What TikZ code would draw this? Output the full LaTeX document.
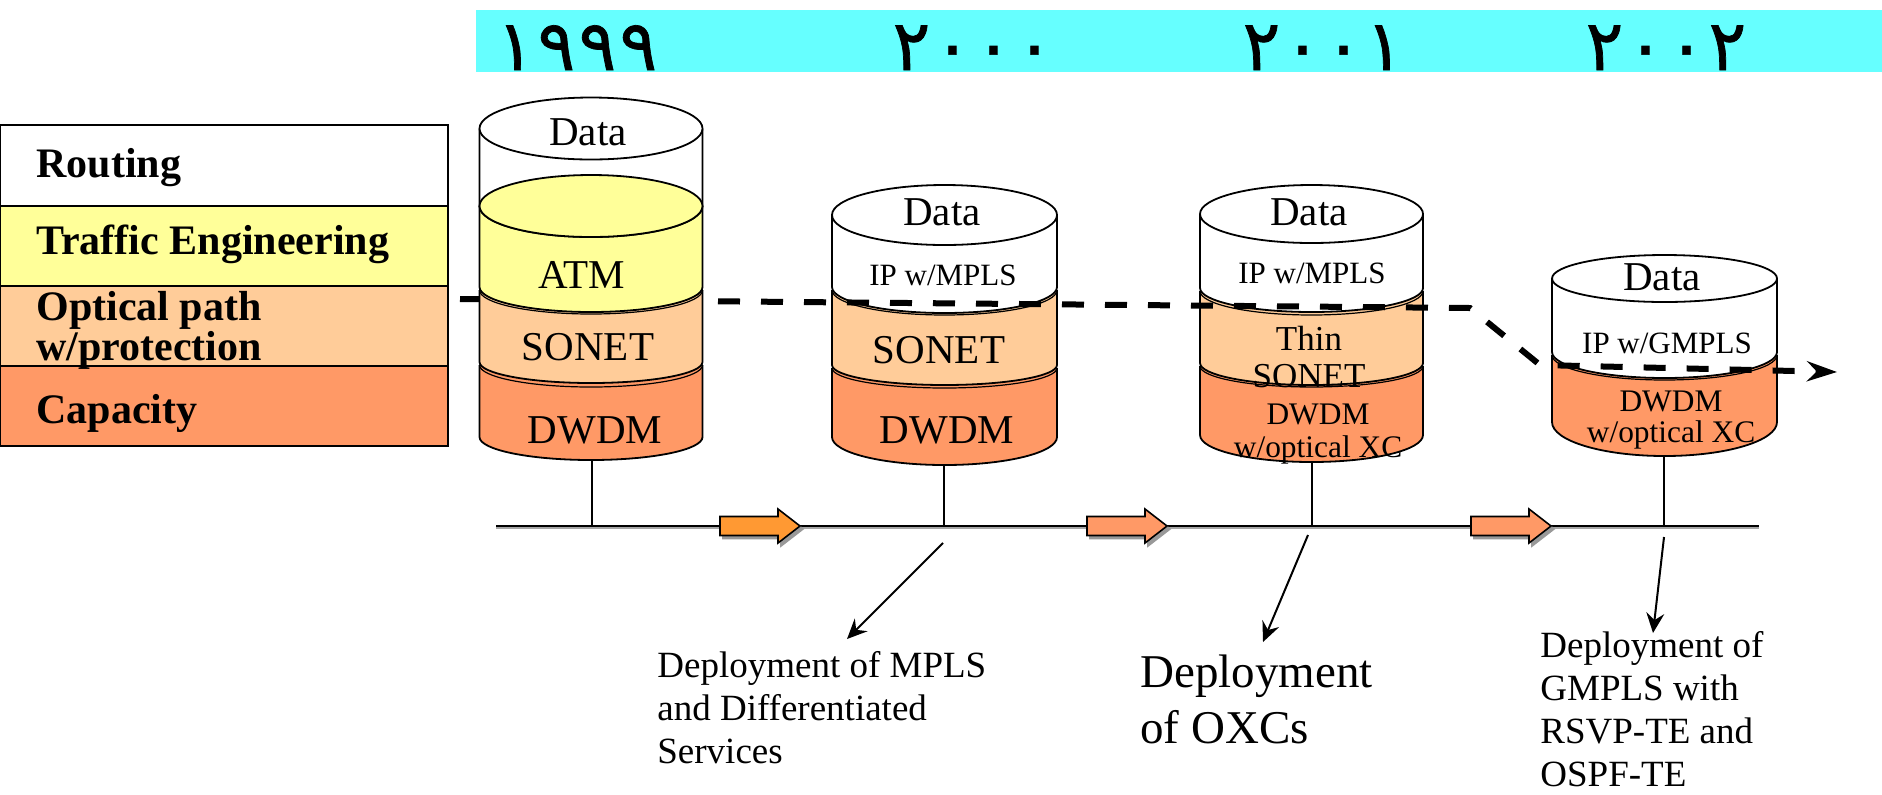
\documentclass[tikz,border=0pt]{standalone}
\usepackage{fontspec}
\setmainfont{Liberation Serif}
\newfontfamily\arabicfont[Script=Arabic,FakeBold=1]{DejaVu Sans}
\usetikzlibrary{arrows.meta}

\definecolor{bandcyan}{HTML}{66FFFF}
\definecolor{layeryellow}{HTML}{FFFF99}
\definecolor{layerpeach}{HTML}{FFCC99}
\definecolor{layerorange}{HTML}{FF9966}
\definecolor{steporange}{HTML}{FF9933}

% Bezier constant for quarter ellipses
\def\ek{0.5523}

% one year digit on a fixed pitch
\newcommand\yd[1]{\makebox[20.5pt][c]{#1}}

% body of one cylinder layer: centre x, top y, bottom y, x radius, y radius of bottom rim, fill
\newcommand\cylbody[6]{%
  \path[fill=#6] (#1-#4,#2) -- (#1-#4,#3)
    .. controls (#1-#4,#3+\ek*#5) and (#1-\ek*#4,#3+#5) .. (#1,#3+#5)
    .. controls (#1+\ek*#4,#3+#5) and (#1+#4,#3+\ek*#5) .. (#1+#4,#3)
    -- (#1+#4,#2) -- cycle;
  \draw[cylline] (#1-#4,#2) -- (#1-#4,#3)
    .. controls (#1-#4,#3+\ek*#5) and (#1-\ek*#4,#3+#5) .. (#1,#3+#5)
    .. controls (#1+\ek*#4,#3+#5) and (#1+#4,#3+\ek*#5) .. (#1+#4,#3)
    -- (#1+#4,#2);
}
% front half of a layer's top rim
\newcommand\cylrim[4]{%
  \draw[rimline] (#1-#3,#2)
    .. controls (#1-#3,#2+\ek*#4) and (#1-\ek*#3,#2+#4) .. (#1,#2+#4)
    .. controls (#1+\ek*#3,#2+#4) and (#1+#3,#2+\ek*#4) .. (#1+#3,#2);
}
% full top ellipse of a layer
\newcommand\cyltop[5]{%
  \filldraw[cylline, fill=#5] (#1+#3,#2)
    .. controls (#1+#3,#2+\ek*#4) and (#1+\ek*#3,#2+#4) .. (#1,#2+#4)
    .. controls (#1-\ek*#3,#2+#4) and (#1-#3,#2+\ek*#4) .. (#1-#3,#2)
    .. controls (#1-#3,#2-\ek*#4) and (#1-\ek*#3,#2-#4) .. (#1,#2-#4)
    .. controls (#1+\ek*#3,#2-#4) and (#1+#3,#2-\ek*#4) .. (#1+#3,#2) -- cycle;
}
% block arrow on the time axis: left x, fill
\newcommand\steparrow[2]{%
  \filldraw[fill=gray!80, draw=gray!80, line width=0.8pt, shift={(3,3)}]
    (#1,516.5) -- (#1+58,516.5) -- (#1+58,509) -- (#1+80,526)
    -- (#1+58,543) -- (#1+58,535.5) -- (#1,535.5) -- cycle;
  \filldraw[fill=#2, draw=black, line width=0.8pt]
    (#1,516.5) -- (#1+58,516.5) -- (#1+58,509) -- (#1+80,526)
    -- (#1+58,543) -- (#1+58,535.5) -- (#1,535.5) -- cycle;
}

\tikzset{
  cylline/.style={draw=black, line width=0.9pt},
  rimline/.style={draw=black, line width=0.6pt},
  layertext/.style={anchor=base, inner sep=0pt, font=\fontsize{20.5}{24}\selectfont},
  smalltext/.style={anchor=base, inner sep=0pt, font=\fontsize{15.5}{18}\selectfont},
  twolinetext/.style={anchor=north, inner sep=0pt, align=center},
  yeartext/.style={anchor=base, inner sep=0pt, font=\arabicfont\fontsize{35}{36}\selectfont},
  rowlabel/.style={anchor=base west, inner sep=0pt, align=left, font=\bfseries\fontsize{21}{20}\selectfont},
  notetext/.style={anchor=north west, inner sep=0pt, align=left, font=\fontsize{18.5}{21.5}\selectfont},
  flowline/.style={line width=3pt, dash pattern=on 11pt off 10.5pt, -{Stealth[length=15pt,width=10pt]}},
  pointer/.style={line width=1pt, -{Stealth[length=10pt,width=9pt,inset=3.5pt]}},
  tickline/.style={line width=0.8pt},
  axisline/.style={line width=1pt},
  tableline/.style={line width=1pt},
}

\begin{document}
\begin{tikzpicture}[x=0.5pt, y=-0.5pt]
\useasboundingbox (0,0) rectangle (1882,794);

% year band
\path[fill=bandcyan] (476,10) rectangle (1882,72);
\node[yeartext] (y1999) at (577,70) {\yd{١}\yd{٩}\yd{٩}\yd{٩}};
\node[yeartext] (y2000) at (973,70) {\yd{٢}\yd{٠}\yd{٠}\yd{٠}};
\node[yeartext] (y2001) at (1323,70) {\yd{٢}\yd{٠}\yd{٠}\yd{١}};
\node[yeartext] (y2002) at (1666,70) {\yd{٢}\yd{٠}\yd{٠}\yd{٢}};

% function table
\draw[tableline, fill=white] (0,125) rectangle (448,206);
\draw[tableline, fill=layeryellow] (0,206) rectangle (448,286);
\draw[tableline, fill=layerpeach] (0,286) rectangle (448,366);
\draw[tableline, fill=layerorange] (0,366) rectangle (448,446);
\node[rowlabel] (lrouting) at (36,177) {Routing};
\node[rowlabel] (lte) at (36,254) {Traffic Engineering};
\node[rowlabel, anchor=north west] (loptical) at (36,291) {Optical path\\w/protection};
\node[rowlabel] (lcap) at (36,423) {Capacity};

% 2000 stack
\cylbody{944.5}{368}{437}{112.5}{28}{layerorange}
\cylrim{944.5}{368}{112.5}{20}
\cylbody{944.5}{290}{365}{112.5}{20}{layerpeach}
\cylrim{944.5}{290}{112.5}{25}
\cylbody{944.5}{215}{287}{112.5}{26}{white}
\cyltop{944.5}{215}{112.5}{30}{white}

% 2001 stack
\cylbody{1311.5}{366}{435}{111.5}{27}{layerorange}
\cylrim{1311.5}{366}{111.5}{21}
\cylbody{1311.5}{291}{363}{111.5}{22}{layerpeach}
\cylrim{1311.5}{291}{111.5}{24}
\cylbody{1311.5}{214}{288}{111.5}{24}{white}
\cyltop{1311.5}{214}{111.5}{29}{white}

% 2002 stack
\cylbody{1664.5}{355}{422}{112.5}{34}{layerorange}
\cylrim{1664.5}{355}{112.5}{25}
\cylbody{1664.5}{278.5}{352}{112.5}{26}{white}
\cyltop{1664.5}{278.5}{112.5}{23.5}{white}

% boundary between optical and packet functions
\coordinate (dA) at (460,299);
\coordinate (dB) at (1470,308);
\coordinate (dC) at (1540,365);
\coordinate (dD) at (1837,372);
\draw[flowline] (dA) -- (dB) -- (dC) -- (dD);

% 1999 stack
\cylbody{591}{365}{437}{111.5}{23}{layerorange}
\cylrim{591}{365}{111.5}{22}
\cylbody{591}{290}{362}{111.5}{21}{layerpeach}
\cylrim{591}{290}{111.5}{24}
\cylbody{591}{206}{287}{111.5}{25}{layeryellow}
\cylbody{591}{128.5}{206}{111.5}{31}{white}
\cyltop{591}{206}{111.5}{31}{layeryellow}
\cyltop{591}{128.5}{111.5}{31}{white}

% layer labels
\node[layertext] (c1data) at (588,145) {Data};
\node[layertext] (c1atm) at (582,288) {ATM};
\node[layertext] (c1sonet) at (588,360) {SONET};
\node[layertext] (c1dwdm) at (595,443) {DWDM};

\node[layertext] (c2data) at (942,225) {Data};
\node[smalltext] (c2ip) at (943,285) {IP w/MPLS};
\node[layertext] (c2sonet) at (939,363) {SONET};
\node[layertext] (c2dwdm) at (947,443) {DWDM};

\node[layertext] (c3data) at (1309,225) {Data};
\node[smalltext] (c3ip) at (1312,283) {IP w/MPLS};
\node[twolinetext, font=\fontsize{17.5}{18.5}\selectfont] (c3sonet) at (1309,326) {Thin\\SONET};
\node[twolinetext, font=\fontsize{15.7}{16.5}\selectfont] (c3dwdm) at (1318,404) {DWDM\\w/optical XC};

\node[layertext] (c4data) at (1662,290) {Data};
\node[smalltext] (c4ip) at (1667,353) {IP w/GMPLS};
\node[twolinetext, font=\fontsize{15.7}{15.5}\selectfont] (c4dwdm) at (1671,391) {DWDM\\w/optical XC};

% time axis
\coordinate (ax0) at (496,526);
\coordinate (ax1) at (1759,526);
\draw[line width=1pt, gray!70] ([yshift=-1.2pt]ax0) -- ([yshift=-1.2pt]ax1);
\draw[axisline] (ax0) -- (ax1);

\coordinate (cb1) at (592,460);
\coordinate (cb2) at (944,465);
\coordinate (cb3) at (1312,462);
\coordinate (cb4) at (1664,456);
\coordinate (t1) at (592,526);
\coordinate (t2) at (944,526);
\coordinate (t3) at (1312,526);
\coordinate (t4) at (1664,526);
\draw[tickline] (cb1) -- (t1);
\draw[tickline] (cb2) -- (t2);
\draw[tickline] (cb3) -- (t3);
\draw[tickline] (cb4) -- (t4);

\steparrow{720}{steporange}
\steparrow{1087}{layerorange}
\steparrow{1471}{layerorange}

% deployment notes
\node[notetext] (nmpls) at (657,651.5) {Deployment of MPLS\\and Differentiated\\Services};
\node[notetext, font=\fontsize{23.5}{28}\selectfont] (noxc) at (1140,654.6) {Deployment\\of OXCs};
\node[notetext] (ngmpls) at (1540,631.5) {Deployment of\\GMPLS with\\RSVP-TE and\\OSPF-TE};

\coordinate (p1a) at (943,543);
\coordinate (p1b) at (847,639);
\coordinate (p2a) at (1308,535);
\coordinate (p2b) at (1263,642);
\coordinate (p3a) at (1664,537);
\coordinate (p3b) at (1653,633);
\draw[pointer] (p1a) -- (p1b);
\draw[pointer] (p2a) -- (p2b);
\draw[pointer] (p3a) -- (p3b);
\end{tikzpicture}
\end{document}
